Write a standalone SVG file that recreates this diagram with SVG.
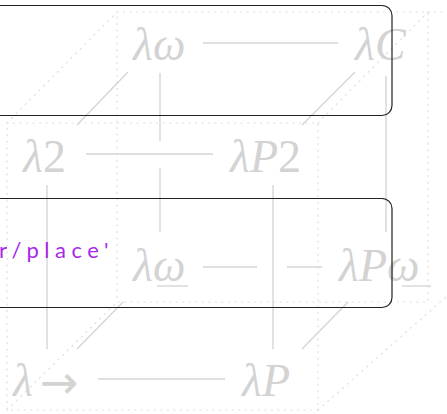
<svg xmlns="http://www.w3.org/2000/svg" width="447" height="414" viewBox="0 0 447 414">
<style>
.bg{fill:#ffffff}
.dot{fill:none;stroke:#dedede;stroke-width:1.2;stroke-dasharray:1.2 5.3;stroke-linecap:round}
.edge{fill:none;stroke:#d6d6d6;stroke-width:1.4}
.lbl{font-family:"Liberation Serif","DejaVu Serif",serif;font-size:46px;font-style:italic;fill:#d3d3d3}
.up{font-style:normal}
.arr{font-family:"DejaVu Sans",sans-serif;font-style:normal;font-size:46px}
.box{fill:none;stroke:#222222;stroke-width:1.2}
.note{font-family:Lato,"Open Sans",sans-serif;font-size:22px;fill:#a52ae8;letter-spacing:5.5px}
</style>
<rect class="bg" x="0" y="0" width="447" height="414"/>
<g id="frame">
<rect class="dot" x="7" y="123" width="311" height="287"/>
<rect class="dot" x="117" y="12" width="311" height="290"/>
<line class="dot" x1="7" y1="123" x2="117" y2="12"/>
<line class="dot" x1="318" y1="123" x2="428" y2="12"/>
<line class="dot" x1="7" y1="410" x2="117" y2="302"/>
<line class="dot" x1="318" y1="410" x2="447" y2="296"/>
<line class="dot" x1="428" y1="12" x2="447" y2="12"/>
</g>
<g id="connectors">
<line class="edge" x1="203" y1="43" x2="338" y2="43"/>
<line class="edge" x1="86" y1="154" x2="213" y2="154"/>
<line class="edge" x1="203" y1="267" x2="257" y2="267"/>
<line class="edge" x1="287" y1="267" x2="322" y2="267"/>
<line class="edge" x1="98" y1="379" x2="225" y2="379"/>
<line class="edge" x1="160" y1="73" x2="160" y2="141"/>
<line class="edge" x1="160" y1="168" x2="160" y2="232"/>
<line class="edge" x1="386" y1="76" x2="386" y2="232"/>
<line class="edge" x1="47" y1="185" x2="47" y2="349"/>
<line class="edge" x1="273" y1="185" x2="273" y2="349"/>
<line class="edge" x1="77" y1="125" x2="128" y2="72"/>
<line class="edge" x1="302" y1="125" x2="355" y2="72"/>
<line class="edge" x1="77" y1="349" x2="123" y2="302"/>
<line class="edge" x1="302" y1="349" x2="348" y2="302"/>
</g>
<g id="lambda-omega"><text class="lbl" x="133" y="60">λω</text></g>
<g id="lambda-C"><text class="lbl" x="355" y="60">λC</text></g>
<g id="lambda-2"><text class="lbl" x="23" y="172">λ<tspan class="up">2</tspan></text></g>
<g id="lambda-P2"><text class="lbl" x="230" y="172">λP<tspan class="up">2</tspan></text></g>
<g id="lambda-omega-under"><text class="lbl" x="133" y="281">λω</text><line class="edge" x1="157" y1="286" x2="188" y2="286"/></g>
<g id="lambda-P-omega-under"><text class="lbl" x="339" y="281">λPω</text><line class="edge" x1="402" y1="286" x2="431" y2="286"/></g>
<g id="lambda-arrow"><text class="lbl" x="13" y="396">λ<tspan class="arr" x="40" y="398">→</tspan></text></g>
<g id="lambda-P"><text class="lbl" x="242" y="396">λP</text></g>
<g id="box-top"><rect class="box" x="-20" y="5.5" width="412" height="110" rx="10"/></g>
<g id="box-bottom"><rect class="box" x="-20" y="198.5" width="412" height="109" rx="10"/></g>
<g id="note"><text class="note" x="-1" y="258">r/place'</text></g>
</svg>
